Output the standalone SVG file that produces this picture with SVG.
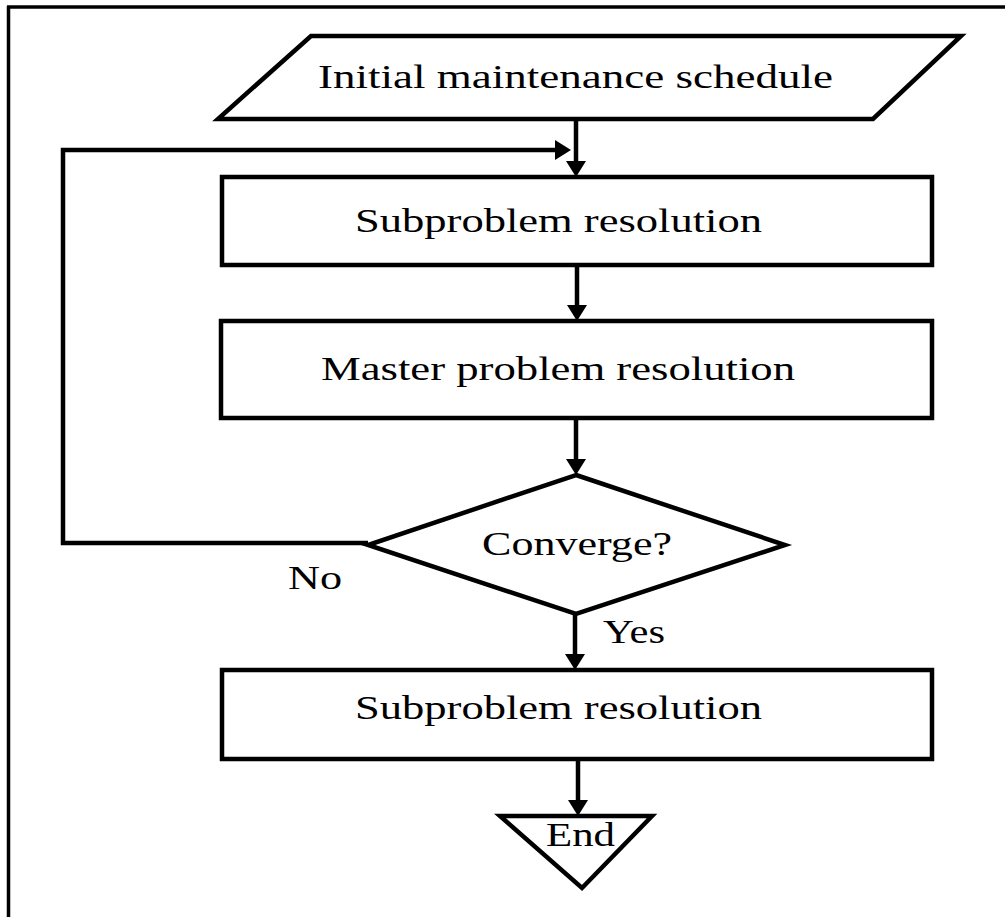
<svg xmlns="http://www.w3.org/2000/svg" width="1005" height="917" viewBox="0 0 1005 917">
  <style>
    .shape { fill: #ffffff; stroke: #000000; stroke-width: 4.5; stroke-linejoin: miter; }
    .frame { fill: none; stroke: #000000; stroke-width: 3.5; }
    .link { fill: none; stroke: #000000; stroke-width: 4.5; }
    .label { font-family: "Liberation Serif", "Times New Roman", serif; font-size: 33px; fill: #000000; }
  </style>
  <defs>
    <marker id="arrow" markerUnits="userSpaceOnUse" markerWidth="16" markerHeight="20" refX="0" refY="10" orient="auto">
      <path d="M0,0 L16,10 L0,20 z" fill="#000000"/>
    </marker>
  </defs>

  <rect width="1005" height="917" fill="#ffffff"/>

  <!-- outer frame: top and left rules only -->
  <g id="frame">
    <line class="frame" x1="7" y1="7" x2="1005" y2="7"/>
    <line class="frame" x1="8.5" y1="6" x2="8.5" y2="917"/>
  </g>

  <g id="start">
    <polygon class="shape" points="311,36 961,36 873,119 218,119"/>
    <text class="label" x="318" y="88" textLength="515" lengthAdjust="spacingAndGlyphs">Initial maintenance schedule</text>
  </g>

  <g id="subproblem">
    <rect class="shape" x="222" y="177" width="710" height="88"/>
    <text class="label" x="355" y="232" textLength="407" lengthAdjust="spacingAndGlyphs">Subproblem resolution</text>
  </g>

  <g id="master">
    <rect class="shape" x="221" y="321" width="711" height="97"/>
    <text class="label" x="321" y="380" textLength="474" lengthAdjust="spacingAndGlyphs">Master problem resolution</text>
  </g>

  <g id="converge">
    <polygon class="shape" points="576,475 785,545 576,614 368,545"/>
    <text class="label" x="482" y="555" textLength="190" lengthAdjust="spacingAndGlyphs">Converge?</text>
  </g>

  <g id="final-subproblem">
    <rect class="shape" x="222" y="670" width="710" height="89"/>
    <text class="label" x="355" y="719" textLength="407" lengthAdjust="spacingAndGlyphs">Subproblem resolution</text>
  </g>

  <g id="end">
    <polygon class="shape" points="500,816 652,816 582,888"/>
    <text class="label" x="546" y="846" textLength="69" lengthAdjust="spacingAndGlyphs">End</text>
  </g>

  <g id="connectors">
    <line class="link" x1="576" y1="119" x2="576" y2="161" marker-end="url(#arrow)"/>
    <polyline class="link" points="368,543 63,543 63,150 555,150" marker-end="url(#arrow)"/>
    <line class="link" x1="577" y1="265" x2="577" y2="305" marker-end="url(#arrow)"/>
    <line class="link" x1="576" y1="418" x2="576" y2="459" marker-end="url(#arrow)"/>
    <line class="link" x1="575" y1="614" x2="575" y2="654" marker-end="url(#arrow)"/>
    <line class="link" x1="578" y1="759" x2="578" y2="800" marker-end="url(#arrow)"/>
    <text class="label" x="288" y="589" textLength="54" lengthAdjust="spacingAndGlyphs">No</text>
    <text class="label" x="603" y="643" textLength="62" lengthAdjust="spacingAndGlyphs">Yes</text>
  </g>
</svg>
